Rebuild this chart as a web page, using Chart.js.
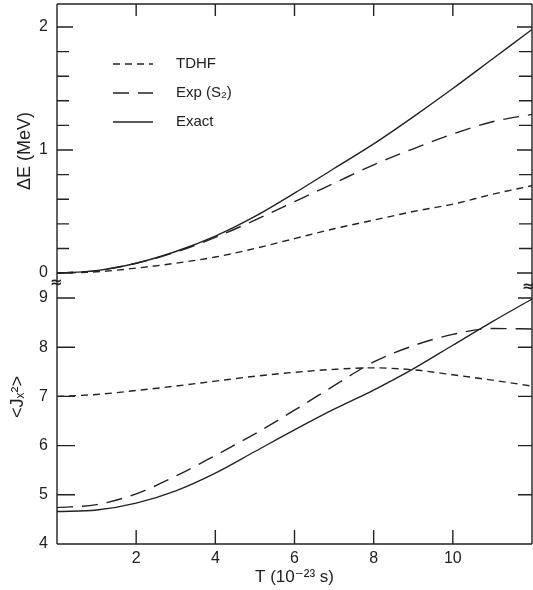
<!DOCTYPE html>
<html>
<head>
<meta charset="utf-8">
<script src="https://cdn.jsdelivr.net/npm/chart.js@4.4.0/dist/chart.umd.min.js"></script>
<style>
  html, body { margin: 0; padding: 0; background: #fff; }
  #wrap { position: relative; width: 533px; height: 590px; overflow: hidden; }
  #topBox { position: absolute; left: 0; top: 0; width: 533px; height: 283px; }
  #botBox { position: absolute; left: 0; top: 283px; width: 533px; height: 307px; }
  .brk { position: absolute; font: bold 15px "DejaVu Sans", sans-serif; color: #222; line-height: 15px; }
</style>
</head>
<body>
<div id="wrap">
  <div id="topBox"><canvas id="energyChart"></canvas></div>
  <div id="botBox"><canvas id="spinChart"></canvas></div>
  <span class="brk" style="left:50px; top:275px;">≈</span>
  <span class="brk" style="left:522px; top:279px;">≈</span>
</div>
<script>
// tiempo en unidades de 1e-23 s
const times = [0, 1, 2, 3, 4, 5, 6, 7, 8, 9, 10, 11, 12];

// panel superior: Delta E (MeV)
const deTdhf  = [0, 0.01, 0.04, 0.08, 0.13, 0.20, 0.28, 0.36, 0.43, 0.50, 0.56, 0.64, 0.71];
const deExp   = [0, 0.02, 0.08, 0.17, 0.29, 0.43, 0.58, 0.73, 0.88, 1.01, 1.13, 1.23, 1.29];
const deExact = [0, 0.02, 0.08, 0.175, 0.30, 0.46, 0.65, 0.85, 1.05, 1.27, 1.50, 1.74, 1.98];

// panel inferior: <Jx^2>
const jTdhf  = [7.00, 7.04, 7.12, 7.21, 7.31, 7.41, 7.49, 7.55, 7.58, 7.54, 7.44, 7.33, 7.21];
const jExp   = [4.74, 4.80, 5.02, 5.38, 5.80, 6.24, 6.72, 7.22, 7.70, 8.03, 8.26, 8.38, 8.37];
const jExact = [4.66, 4.69, 4.83, 5.08, 5.44, 5.88, 6.32, 6.74, 7.13, 7.56, 8.04, 8.52, 8.98];

const seriesNames = ['TDHF', 'Exp (S₂)', 'Exact'];
const timeTicks = [2, 4, 6, 8, 10];
const deTicks = [0, 1, 2];
const deMarks = [0, 0.2, 0.4, 0.6, 0.8, 1, 1.2, 1.4, 1.6, 1.8, 2];
const jTicks = [4, 5, 6, 7, 8, 9];
const jMarks = [5, 6, 7, 8, 9];

const ink = '#222';
const dashes = [[7, 5], [16, 9], []];
Chart.defaults.font.family = '"Liberation Sans", "DejaVu Sans", sans-serif';
Chart.defaults.color = ink;

function makeSets(series) {
    return series.map((vals, i) => ({
        label: seriesNames[i],
        data: times.map((t, k) => ({ x: t, y: vals[k] })),
        borderColor: ink,
        borderWidth: 1.4,
        borderDash: dashes[i],
        pointRadius: 0,
        fill: false,
        cubicInterpolationMode: 'monotone'
    }));
}

// sin relleno extra para las etiquetas, el area queda fija
function fixY(s) {
    s.width = 57;
    s.paddingTop = 0;
    s.paddingBottom = 0;
}

// marco, marcas hacia dentro, leyenda y titulos de eje
const panelDeco = {
    id: 'panelDeco',
    afterDatasetsDraw(chart, args, o) {
        const { ctx, chartArea: a, scales } = chart;
        ctx.save();
        ctx.strokeStyle = ink;
        ctx.lineWidth = 1.4;
        ctx.setLineDash([]);
        ctx.beginPath();
        if (o.sides.includes('top'))    { ctx.moveTo(a.left, a.top); ctx.lineTo(a.right, a.top); }
        if (o.sides.includes('bottom')) { ctx.moveTo(a.left, a.bottom); ctx.lineTo(a.right, a.bottom); }
        ctx.moveTo(a.left, a.top); ctx.lineTo(a.left, a.bottom);
        ctx.moveTo(a.right, a.top); ctx.lineTo(a.right, a.bottom);
        o.yMarks.forEach(v => {
            const py = scales.y.getPixelForValue(v);
            const major = o.yMajor.includes(v);
            ctx.moveTo(a.left, py); ctx.lineTo(a.left + (major ? o.leftLen[0] : o.leftLen[1]), py);
            ctx.moveTo(a.right, py); ctx.lineTo(a.right - (major ? o.rightLen[0] : o.rightLen[1]), py);
        });
        timeTicks.forEach(t => {
            const px = scales.x.getPixelForValue(t);
            if (o.xEdge === 'top') { ctx.moveTo(px, a.top); ctx.lineTo(px, a.top + o.xLen); }
            else { ctx.moveTo(px, a.bottom); ctx.lineTo(px, a.bottom - o.xLen); }
        });
        ctx.stroke();

        if (o.legend) {
            ctx.font = '15px "Liberation Sans", "DejaVu Sans", sans-serif';
            ctx.fillStyle = ink;
            ctx.textBaseline = 'middle';
            chart.data.datasets.forEach((ds, i) => {
                const y = o.legend.y + i * o.legend.gap;
                ctx.setLineDash(ds.borderDash);
                ctx.beginPath();
                ctx.moveTo(o.legend.x, y);
                ctx.lineTo(o.legend.x + 40, y);
                ctx.stroke();
                ctx.fillText(ds.label, o.legend.x + 63, y);
            });
        }

        ctx.translate(o.title.x, o.title.y);
        ctx.rotate(-Math.PI / 2);
        ctx.font = '18px "Liberation Sans", "DejaVu Sans", sans-serif';
        ctx.fillStyle = ink;
        ctx.textAlign = 'center';
        ctx.textBaseline = 'middle';
        ctx.fillText(o.title.text, 0, 0);
        ctx.restore();
    }
};

const tickFont = { size: 16 };

new Chart(document.getElementById('energyChart'), {
    type: 'line',
    data: { datasets: makeSets([deTdhf, deExp, deExact]) },
    plugins: [panelDeco],
    options: {
        responsive: true,
        maintainAspectRatio: false,
        animation: false,
        layout: { padding: { top: 4, right: 1, left: 0, bottom: 0 } },
        plugins: {
            legend: { display: false },
            tooltip: { enabled: false },
            panelDeco: {
                sides: ['top'],
                yMarks: deMarks, yMajor: deTicks,
                leftLen: [16, 12], rightLen: [15, 13],
                xEdge: 'top', xLen: 12,
                legend: { x: 113, y: 64, gap: 29 },
                title: { x: 25, y: 151, text: 'ΔE (MeV)' }
            }
        },
        scales: {
            x: { type: 'linear', display: false, min: 0, max: 12 },
            y: {
                min: -0.081, max: 2.187,
                afterBuildTicks: s => { s.ticks = deTicks.map(v => ({ value: v })); },
                afterFit: fixY,
                grid: { display: false, drawTicks: false },
                border: { display: false },
                ticks: { font: tickFont, padding: 9, color: ink }
            }
        }
    }
});

new Chart(document.getElementById('spinChart'), {
    type: 'line',
    data: { datasets: makeSets([jTdhf, jExp, jExact]) },
    plugins: [panelDeco],
    options: {
        responsive: true,
        maintainAspectRatio: false,
        animation: false,
        layout: { padding: { top: 0, right: 1, left: 0, bottom: 0 } },
        plugins: {
            legend: { display: false },
            tooltip: { enabled: false },
            panelDeco: {
                sides: ['bottom'],
                yMarks: jMarks, yMajor: jMarks,
                leftLen: [18, 18], rightLen: [14, 14],
                xEdge: 'bottom', xLen: 14,
                legend: null,
                title: { x: 18, y: 114, text: '<Jₓ²>' }
            }
        },
        scales: {
            x: {
                type: 'linear', min: 0, max: 12,
                afterBuildTicks: s => { s.ticks = timeTicks.map(v => ({ value: v })); },
                afterFit: s => { s.height = 46; s.paddingLeft = 0; s.paddingRight = 0; },
                grid: { display: false, drawTicks: false },
                border: { display: false },
                ticks: { font: tickFont, padding: 5, color: ink, maxRotation: 0 },
                title: { display: true, text: 'T (10⁻²³ s)', font: { size: 17 }, color: ink, padding: { top: 0, bottom: 2 } }
            },
            y: {
                min: 4, max: 9.305,
                afterBuildTicks: s => { s.ticks = jTicks.map(v => ({ value: v })); },
                afterFit: fixY,
                grid: { display: false, drawTicks: false },
                border: { display: false },
                ticks: { font: tickFont, padding: 9, color: ink }
            }
        }
    }
});
</script>
</body>
</html>
